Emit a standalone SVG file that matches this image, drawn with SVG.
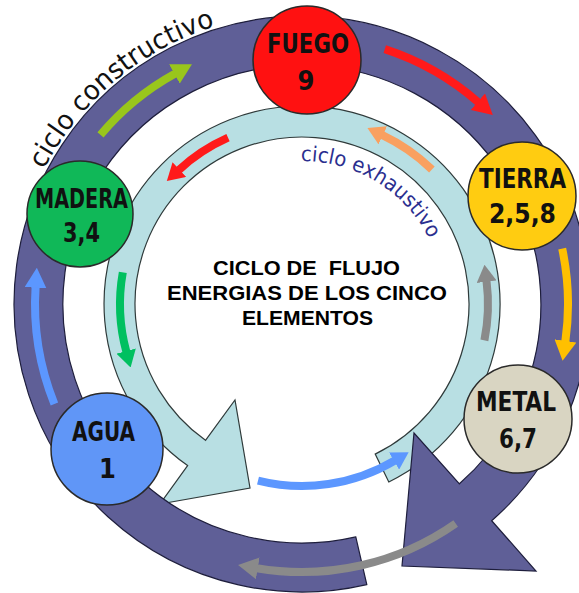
<svg xmlns="http://www.w3.org/2000/svg" width="579" height="593" viewBox="0 0 579 593">
<style>
.ring-o{fill:#5f5f97;stroke:#1e1e3c;stroke-width:1.2}
.ring-i{fill:#b8dfe3;stroke:#2f3a3a;stroke-width:1.2}
.arr{fill:none;stroke-width:8;stroke-linecap:butt}
.node{stroke:#2a2a2a;stroke-width:1.5}
.nm{font-family:"Liberation Sans Narrow","DejaVu Sans Condensed","Liberation Sans",sans-serif;font-weight:bold;font-size:27px;fill:#111;text-anchor:middle}
.ttl{font-family:"Liberation Sans",Arial,sans-serif;font-weight:bold;font-size:20px;fill:#000}
.cyc{font-family:"DejaVu Sans",sans-serif}
</style>
<defs>
<marker id="hGY" markerUnits="userSpaceOnUse" viewBox="0 0 20 22" markerWidth="20" markerHeight="22" refX="1" refY="11" orient="auto"><path d="M0,0 L20,11 L0,22 Z" fill="#99c61c"/></marker>
<marker id="hRedO" markerUnits="userSpaceOnUse" viewBox="0 0 20 22" markerWidth="20" markerHeight="22" refX="1" refY="11" orient="auto"><path d="M0,0 L20,11 L0,22 Z" fill="#ff1a1a"/></marker>
<marker id="hYel" markerUnits="userSpaceOnUse" viewBox="0 0 20 22" markerWidth="20" markerHeight="22" refX="1" refY="11" orient="auto"><path d="M0,0 L20,11 L0,22 Z" fill="#ffc000"/></marker>
<marker id="hGrayO" markerUnits="userSpaceOnUse" viewBox="0 0 20 22" markerWidth="20" markerHeight="22" refX="1" refY="11" orient="auto"><path d="M0,0 L20,11 L0,22 Z" fill="#8a8a8a"/></marker>
<marker id="hBlueO" markerUnits="userSpaceOnUse" viewBox="0 0 20 22" markerWidth="20" markerHeight="22" refX="1" refY="11" orient="auto"><path d="M0,0 L20,11 L0,22 Z" fill="#5c97ff"/></marker>
<marker id="hOr" markerUnits="userSpaceOnUse" viewBox="0 0 17 20" markerWidth="17" markerHeight="20" refX="1" refY="10" orient="auto"><path d="M0,0 L17,10 L0,20 Z" fill="#f9a060"/></marker>
<marker id="hRedI" markerUnits="userSpaceOnUse" viewBox="0 0 17 20" markerWidth="17" markerHeight="20" refX="1" refY="10" orient="auto"><path d="M0,0 L17,10 L0,20 Z" fill="#ff1a1a"/></marker>
<marker id="hGrn" markerUnits="userSpaceOnUse" viewBox="0 0 17 20" markerWidth="17" markerHeight="20" refX="1" refY="10" orient="auto"><path d="M0,0 L17,10 L0,20 Z" fill="#00c060"/></marker>
<marker id="hGrayI" markerUnits="userSpaceOnUse" viewBox="0 0 17 20" markerWidth="17" markerHeight="20" refX="1" refY="10" orient="auto"><path d="M0,0 L17,10 L0,20 Z" fill="#8a8a8a"/></marker>
<marker id="hBlueI" markerUnits="userSpaceOnUse" viewBox="0 0 17 20" markerWidth="17" markerHeight="20" refX="1" refY="10" orient="auto"><path d="M0,0 L17,10 L0,20 Z" fill="#5c97ff"/></marker>
<path id="tpC" d="M 43.9 169.6 A 291 291 0 0 1 251.5 17.4"/>
<path id="tpE" d="M 300.8 161 A 143 143 0 0 1 440.1 267"/>
</defs>
<rect width="579" height="593" fill="#ffffff"/>

<g id="connectors">
<path id="ciclo-exhaustivo-ring" class="ring-i" d="M 388.8 482 A 198 198 0 1 0 187.6 465.6 L 160 504 L 250 488 L 235 400 L 205.5 440.3 A 167 167 0 1 1 375.2 454.1 Z"/>
<path class="arr" stroke="#f9a060" marker-end="url(#hOr)" d="M 431.9 169.5 A 187 187 0 0 0 381.9 134.9"/>
<path class="arr" stroke="#ff1a1a" marker-end="url(#hRedI)" d="M 228 137.7 A 182 182 0 0 0 178.6 170.2"/>
<path class="arr" stroke="#00c060" marker-end="url(#hGrn)" d="M 122.8 272.4 A 182 182 0 0 0 126.4 352"/>
<path class="arr" stroke="#8a8a8a" marker-end="url(#hGrayI)" d="M 484.4 340.4 A 186 186 0 0 0 486.5 280.7"/>
<path class="arr" stroke="#5c97ff" marker-end="url(#hBlueI)" d="M 258 480.6 A 182 182 0 0 0 394.9 460.5"/>
<path id="ciclo-constructivo-ring" class="ring-o" d="M 366.8 584.6 A 288 288 0 1 1 491.7 520.7 L 536 571 L 402 566 L 414 433 L 459.4 483.8 A 239 239 0 1 0 355.8 536.9 Z"/>
<path class="arr" stroke="#99c61c" marker-end="url(#hGY)" d="M 100.5 134.9 A 263 263 0 0 1 175.3 73.5"/>
<path class="arr" stroke="#ff1a1a" marker-end="url(#hRedO)" d="M 384.8 49.1 A 268 268 0 0 1 478.5 102.4"/>
<path class="arr" stroke="#ffc000" marker-end="url(#hYel)" d="M 562.2 248.7 A 266 266 0 0 1 565.3 341.9"/>
<path class="arr" stroke="#8a8a8a" marker-end="url(#hGrayO)" d="M 455.7 523.5 A 268 268 0 0 1 256.8 568.2"/>
<path class="arr" stroke="#5c97ff" marker-end="url(#hBlueO)" d="M 54.4 404 A 267 267 0 0 1 35.6 286.8"/>
</g>

<g id="labels">
<text class="cyc" font-size="27" fill="#111"><textPath href="#tpC" textLength="229" lengthAdjust="spacingAndGlyphs">ciclo constructivo</textPath></text>
<text class="cyc" font-size="21" fill="#2b2f8f"><textPath href="#tpE" textLength="158" lengthAdjust="spacingAndGlyphs">ciclo exhaustivo</textPath></text>
<text class="ttl" x="213" y="275" textLength="187" lengthAdjust="spacingAndGlyphs" xml:space="preserve">CICLO DE  FLUJO</text>
<text class="ttl" x="167" y="300" textLength="280" lengthAdjust="spacingAndGlyphs">ENERGIAS DE LOS CINCO</text>
<text class="ttl" x="242" y="325" textLength="131" lengthAdjust="spacingAndGlyphs">ELEMENTOS</text>
</g>

<g id="node-fuego">
<circle class="node" cx="307" cy="60" r="54" fill="#ff1111"/>
<text class="nm" x="308" y="53" textLength="82" lengthAdjust="spacingAndGlyphs">FUEGO</text>
<text class="nm" x="306" y="90">9</text>
</g>
<g id="node-tierra">
<circle class="node" cx="522" cy="196" r="54" fill="#ffcc11"/>
<text class="nm" x="522.5" y="188" textLength="87" lengthAdjust="spacingAndGlyphs">TIERRA</text>
<text class="nm" x="522.5" y="223" textLength="67" lengthAdjust="spacingAndGlyphs">2,5,8</text>
</g>
<g id="node-metal">
<circle class="node" cx="518" cy="419" r="54" fill="#d9d5c2"/>
<text class="nm" x="516" y="411" textLength="80" lengthAdjust="spacingAndGlyphs">METAL</text>
<text class="nm" x="518" y="448" textLength="38" lengthAdjust="spacingAndGlyphs">6,7</text>
</g>
<g id="node-agua">
<circle class="node" cx="107" cy="449" r="56" fill="#6096f7"/>
<text class="nm" x="103.5" y="441" textLength="63" lengthAdjust="spacingAndGlyphs">AGUA</text>
<text class="nm" x="107.5" y="478">1</text>
</g>
<g id="node-madera">
<circle class="node" cx="80" cy="214" r="53" fill="#10b858"/>
<text class="nm" x="81.5" y="208" textLength="93" lengthAdjust="spacingAndGlyphs">MADERA</text>
<text class="nm" x="81.5" y="242" textLength="37" lengthAdjust="spacingAndGlyphs">3,4</text>
</g>
</svg>
